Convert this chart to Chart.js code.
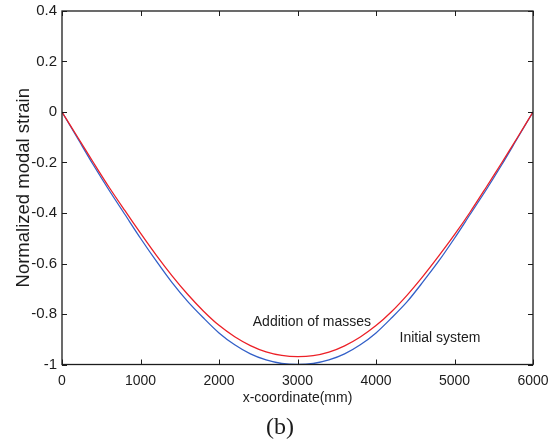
<!DOCTYPE html>
<html>
<head>
<meta charset="utf-8">
<script src="https://cdn.jsdelivr.net/npm/chart.js@4.4.1/dist/chart.umd.min.js"></script>
<style>
  html, body { margin: 0; padding: 0; background: #fff; }
  #wrap { width: 554px; height: 448px; position: relative; }
</style>
</head>
<body>
<div id="wrap"><canvas id="strainChart"></canvas></div>
<script>
// Mode shape, every 200 mm along the beam
const xCoords = [0, 200, 400, 600, 800, 1000, 1200, 1400, 1600, 1800, 2000,
                 2200, 2400, 2600, 2800, 3000, 3200, 3400, 3600, 3800, 4000,
                 4200, 4400, 4600, 4800, 5000, 5200, 5400, 5600, 5800, 6000];
const initialSystem = [0, -0.105, -0.21, -0.31, -0.405, -0.5, -0.59, -0.675, -0.75, -0.815, -0.875,
                       -0.922, -0.958, -0.982, -0.996, -1.0, -0.996, -0.982, -0.958, -0.922, -0.875,
                       -0.815, -0.75, -0.672, -0.59, -0.5, -0.405, -0.31, -0.21, -0.105, 0];
const additionOfMasses = [0, -0.1, -0.2, -0.298, -0.39, -0.48, -0.567, -0.648, -0.722, -0.788, -0.845,
                          -0.89, -0.925, -0.95, -0.964, -0.969, -0.965, -0.951, -0.926, -0.891, -0.846,
                          -0.79, -0.724, -0.65, -0.57, -0.486, -0.396, -0.3, -0.202, -0.102, 0];
const xTicks = [0, 1000, 2000, 3000, 4000, 5000, 6000];
const yTicks = [0.4, 0.2, 0, -0.2, -0.4, -0.6, -0.8, -1];

// text labels placed in data units: [text, x, y]
const notes = [
  ['Addition of masses', 2430, -0.832],
  ['Initial system', 4300, -0.895]
];

const sans = '"Liberation Sans", Arial, sans-serif';
const ink = '#1c1c1c';

// MATLAB style box with ticks pointing inwards, plus the text notes
const framePlugin = {
  id: 'frame',
  afterDatasetsDraw(chart) {
    const {ctx, chartArea: a, scales: {x, y}} = chart;
    ctx.save();
    ctx.strokeStyle = ink;
    ctx.lineWidth = 1.3;
    ctx.strokeRect(a.left, a.top, a.right - a.left, a.bottom - a.top);
    ctx.lineWidth = 1;
    ctx.beginPath();
    x.ticks.forEach(t => {
      const px = Math.round(x.getPixelForValue(t.value)) + 0.5;
      ctx.moveTo(px, a.bottom); ctx.lineTo(px, a.bottom - 5);
      ctx.moveTo(px, a.top); ctx.lineTo(px, a.top + 5);
    });
    y.ticks.forEach(t => {
      const py = Math.round(y.getPixelForValue(t.value)) + 0.5;
      ctx.moveTo(a.left, py); ctx.lineTo(a.left + 5, py);
      ctx.moveTo(a.right, py); ctx.lineTo(a.right - 5, py);
    });
    ctx.stroke();

    ctx.fillStyle = ink;
    ctx.font = '14px ' + sans;
    ctx.textAlign = 'left';
    ctx.textBaseline = 'middle';
    notes.forEach(([txt, nx, ny]) => {
      ctx.fillText(txt, x.getPixelForValue(nx), y.getPixelForValue(ny));
    });

    ctx.font = '24px "Liberation Serif", "Times New Roman", serif';
    ctx.textAlign = 'center';
    ctx.fillText('(b)', 280, chart.height - 20);
    ctx.restore();
  }
};

new Chart(document.getElementById('strainChart'), {
  type: 'line',
  data: {
    datasets: [
      {
        label: 'Addition of masses',
        data: xCoords.map((v, i) => ({x: v, y: additionOfMasses[i]})),
        borderColor: '#ec2027',
        borderWidth: 1.3,
        pointRadius: 0,
        tension: 0.3
      },
      {
        label: 'Initial system',
        data: xCoords.map((v, i) => ({x: v, y: initialSystem[i]})),
        borderColor: '#3360c8',
        borderWidth: 1.3,
        pointRadius: 0,
        tension: 0.3
      }
    ]
  },
  options: {
    responsive: true,
    maintainAspectRatio: false,
    animation: false,
    devicePixelRatio: 1,
    layout: { padding: { top: 11, right: 21, bottom: 0, left: 0 } },
    plugins: { legend: { display: false }, tooltip: { enabled: false } },
    scales: {
      x: {
        type: 'linear',
        min: 0,
        max: 6000,
        afterBuildTicks: s => { s.ticks = xTicks.map(v => ({value: v})); },
        afterFit: s => { s.height = 83.5; s.paddingLeft = 0; s.paddingRight = 0; },
        grid: { drawOnChartArea: false, drawTicks: false },
        border: { display: false },
        ticks: {
          padding: 8,
          maxRotation: 0,
          color: ink,
          font: { family: sans, size: 14 },
          callback: v => String(v)
        },
        title: {
          display: true,
          text: 'x-coordinate(mm)',
          color: ink,
          font: { family: sans, size: 14 },
          padding: { top: 0, bottom: 41 }
        }
      },
      y: {
        min: -1,
        max: 0.4,
        afterBuildTicks: s => { s.ticks = yTicks.map(v => ({value: v})); },
        afterFit: s => { s.width = 62; s.paddingTop = 0; s.paddingBottom = 0; },
        grid: { drawOnChartArea: false, drawTicks: false },
        border: { display: false },
        ticks: {
          padding: 5,
          color: ink,
          font: { family: sans, size: 15 },
          callback: v => String(+v.toFixed(1))
        },
        title: {
          display: true,
          text: 'Normalized modal strain',
          color: ink,
          font: { family: sans, size: 18.5 },
          padding: { top: 13, bottom: 0 }
        }
      }
    }
  },
  plugins: [framePlugin]
});
</script>
</body>
</html>
